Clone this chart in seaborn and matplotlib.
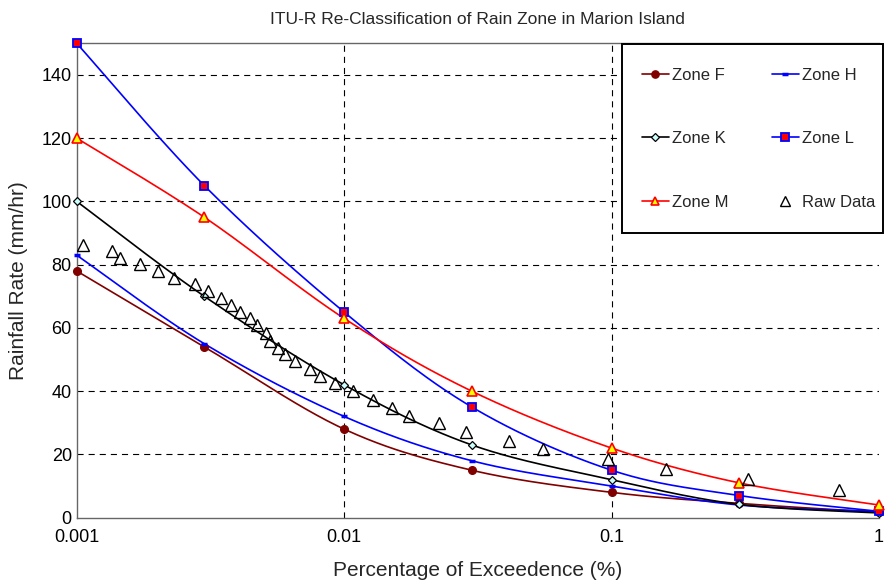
import numpy as np
import pandas as pd
import matplotlib
matplotlib.use("Agg")
import matplotlib.pyplot as plt
import seaborn as sns
from matplotlib.lines import Line2D
from matplotlib.patches import Rectangle
from matplotlib.ticker import FixedLocator, FixedFormatter, NullLocator

# ITU-R rain rate (mm/hr) exceeded for a given percentage of time
exceedance = [0.001, 0.003, 0.01, 0.03, 0.1, 0.3, 1.0]
zone_f = [78, 54, 28, 15, 8, 4.5, 1.7]
zone_h = [83, 55, 32, 18, 10, 4, 2]
zone_k = [100, 70, 42, 23, 12, 4.2, 1.5]
zone_l = [150, 105, 65, 35, 15, 7, 2]
zone_m = [120, 95, 63, 40, 22, 11, 4]

# Measured rain rate distribution at Marion Island
raw_pct = [0.00106, 0.00135, 0.00145, 0.00173, 0.00202, 0.00231, 0.00278,
           0.00310, 0.00346, 0.00376, 0.00407, 0.00444, 0.00474, 0.00510,
           0.00527, 0.00566, 0.00600, 0.00656, 0.00744, 0.00811, 0.00925,
           0.0108, 0.0128, 0.0151, 0.0175, 0.0226, 0.0286, 0.0414, 0.0552,
           0.0966, 0.160, 0.323, 0.706]
raw_rate = [86.3, 84.2, 82.2, 80.3, 78.1, 75.9, 74.0, 71.7, 69.5, 67.3, 65.1,
            63.2, 60.8, 58.4, 56.0, 53.8, 51.8, 49.4, 47.1, 44.8, 42.5, 39.9,
            37.2, 34.8, 32.2, 30.0, 27.2, 24.3, 21.6, 18.5, 15.3, 12.2, 8.8]

x_ticks = [0.001, 0.01, 0.1, 1]
x_tick_labels = ["0.001", "0.01", "0.1", "1"]
y_ticks = [0, 20, 40, 60, 80, 100, 120, 140]

W, H = 891, 581


def smooth_curve(xs, ys, n=40):
    """Catmull-Rom curve through the points, in log-x space."""
    pts = np.column_stack([np.log10(xs), np.asarray(ys, float)])
    pts = np.vstack([pts[0], pts, pts[-1]])
    segs = []
    last = len(pts) - 3
    for i in range(1, len(pts) - 2):
        p0, p1, p2, p3 = pts[i - 1:i + 3]
        t = np.linspace(0, 1, n, endpoint=(i == last))[:, None]
        seg = 0.5 * (2 * p1 + (-p0 + p2) * t
                     + (2 * p0 - 5 * p1 + 4 * p2 - p3) * t ** 2
                     + (-p0 + 3 * p1 - 3 * p2 + p3) * t ** 3)
        segs.append(seg)
    seg = np.vstack(segs)
    return pd.DataFrame({"pct": 10 ** seg[:, 0], "rate": seg[:, 1]})


sns.set_style("white")
plt.rcParams["font.family"] = ["Liberation Sans", "DejaVu Sans"]

fig = plt.figure(figsize=(W / 100, H / 100), dpi=100)
ax = fig.add_axes([0.0861, 0.109, 0.9005, 0.8165])

zones = [
    ("Zone F", zone_f, dict(color="#800000", marker="o", mfc="#800000", mec="#800000", ms=5.5, mew=1)),
    ("Zone H", zone_h, dict(color="#0000ff", marker="_", mfc="#0000ff", mec="#0000ff", ms=4, mew=2.5)),
    ("Zone K", zone_k, dict(color="#000000", marker="D", mfc="#ccffff", mec="#000000", ms=4.2, mew=0.9)),
    ("Zone L", zone_l, dict(color="#0000ff", marker="s", mfc="#ff0000", mec="#0000ff", ms=6, mew=1.3)),
    ("Zone M", zone_m, dict(color="#ff0000", marker="^", mfc="#ffff00", mec="#ff0000", ms=6.5, mew=1.2)),
]

handles = {}
for name, values, style in zones:
    curve = smooth_curve(exceedance, values)
    sns.lineplot(data=curve, x="pct", y="rate", color=style["color"], lw=1.2,
                 estimator=None, sort=False, ax=ax, zorder=3)
    ax.plot(exceedance, values, ls="none", marker=style["marker"], ms=style["ms"],
            mfc=style["mfc"], mec=style["mec"], mew=style["mew"], zorder=4, clip_on=False)
    handles[name] = Line2D([], [], color=style["color"], lw=1.2, marker=style["marker"],
                           ms=style["ms"] * 0.95, mfc=style["mfc"], mec=style["mec"],
                           mew=style["mew"], label=name)

ax.plot(raw_pct, raw_rate, ls="none", marker="^", ms=8, mfc="none", mec="black",
        mew=1.0, zorder=5)
handles["Raw Data"] = Line2D([], [], ls="none", marker="^", ms=6.5, mfc="none",
                             mec="black", mew=1.0, label="Raw Data")

ax.set_xscale("log")
ax.set_xlim(0.001, 1)
ax.set_ylim(0, 150)
ax.xaxis.set_major_locator(FixedLocator(x_ticks))
ax.xaxis.set_major_formatter(FixedFormatter(x_tick_labels))
ax.xaxis.set_minor_locator(NullLocator())
ax.set_yticks(y_ticks)

ax.grid(True, which="major", color="black", lw=0.8, ls=(0, (5.5, 4.5)))
xticks = ax.xaxis.get_major_ticks()
xticks[0].gridline.set_visible(False)
xticks[-1].gridline.set_visible(False)
ax.yaxis.get_major_ticks()[0].gridline.set_visible(False)

for side in ["left", "bottom", "top"]:
    ax.spines[side].set_color("#666666")
    ax.spines[side].set_linewidth(1.0)
ax.spines["right"].set_visible(False)

ax.tick_params(axis="both", direction="in", length=3, color="#666666", labelsize=13,
               labelcolor="black")
ax.tick_params(axis="x", pad=8)

ax.set_xlabel("Percentage of Exceedence (%)", fontsize=15, labelpad=11)
ax.set_ylabel("Rainfall Rate (mm/hr)", fontsize=15, labelpad=10)
ax.set_title("ITU-R Re-Classification of Rain Zone in Marion Island", fontsize=12.5, pad=14)

# legend box, drawn as its own frame so the entries can sit off-centre in it
frame = Rectangle((622 / W, 1 - 233 / H), (883 - 622) / W, (233 - 44) / H,
                  transform=fig.transFigure, facecolor="white", edgecolor="black",
                  linewidth=1.4, zorder=9)
fig.add_artist(frame)

order = ["Zone F", "Zone K", "Zone M", "Zone H", "Zone L", "Raw Data"]
leg = fig.legend(handles=[handles[k] for k in order], ncol=2, fontsize=12,
                 loc="upper left", bbox_to_anchor=(642 / W, 1 - 68 / H),
                 bbox_transform=fig.transFigure, borderaxespad=0, frameon=False,
                 handlelength=1.6, handletextpad=0.2, columnspacing=2.6,
                 labelspacing=2.9, borderpad=0)
leg.set_zorder(10)

fig.savefig("out.png", dpi=100)
